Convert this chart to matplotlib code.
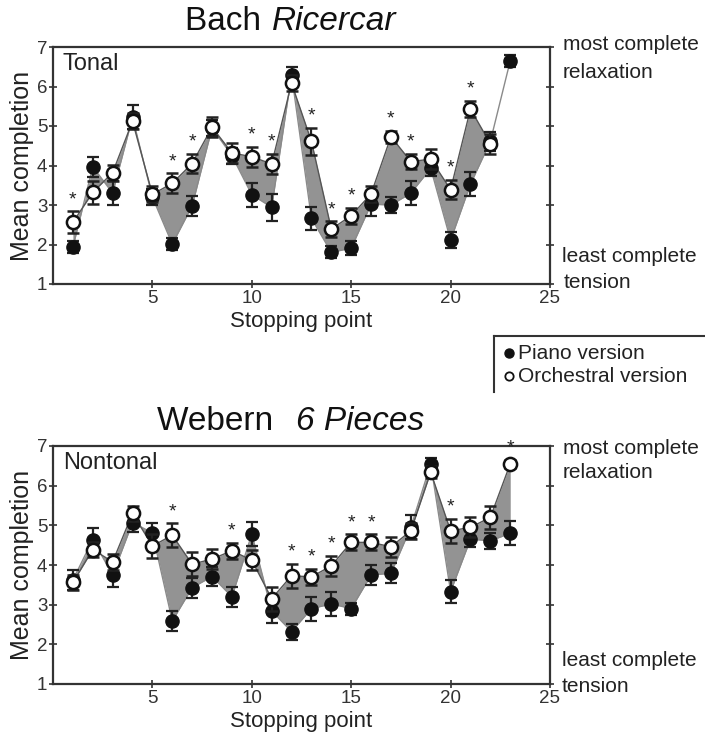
import numpy as np
import matplotlib
matplotlib.use("Agg")
import matplotlib.pyplot as plt
from matplotlib.lines import Line2D

plt.rcParams['font.family'] = ['Liberation Sans', 'DejaVu Sans']

points = np.arange(1, 24)

# Bach Ricercar (tonal)
bach_piano = [1.93, 3.97, 3.30, 5.22, 3.20, 2.01, 2.98, 4.95, 4.25, 3.26, 2.94, 6.30,
              2.66, 1.80, 1.91, 3.02, 3.00, 3.30, 3.93, 2.11, 3.53, 4.61, 6.65]
bach_piano_err = [0.15, 0.25, 0.30, 0.30, 0.20, 0.15, 0.25, 0.20, 0.20, 0.30, 0.35, 0.20,
                  0.30, 0.15, 0.18, 0.30, 0.20, 0.30, 0.20, 0.20, 0.30, 0.25, 0.15]
bach_orch = [2.56, 3.32, 3.82, 5.12, 3.27, 3.55, 4.05, 4.97, 4.32, 4.22, 4.04, 6.08,
             4.61, 2.39, 2.73, 3.28, 4.73, 4.10, 4.16, 3.39, 5.43, 4.55, np.nan]
bach_orch_err = [0.28, 0.30, 0.20, 0.20, 0.20, 0.25, 0.25, 0.25, 0.25, 0.25, 0.25, 0.20,
                 0.35, 0.20, 0.20, 0.20, 0.15, 0.20, 0.25, 0.25, 0.20, 0.25, np.nan]
bach_sig = [1, 6, 7, 10, 11, 13, 14, 15, 17, 18, 20, 21]

# Webern 6 Pieces (nontonal)
web_piano = [3.62, 4.64, 3.75, 5.07, 4.81, 2.59, 3.43, 3.71, 3.20, 4.78, 2.84, 2.32,
             2.90, 3.02, 2.90, 3.75, 3.79, 4.95, 6.55, 3.33, 4.65, 4.61, 4.80]
web_piano_err = [0.25, 0.30, 0.30, 0.25, 0.25, 0.25, 0.25, 0.25, 0.25, 0.30, 0.30, 0.20,
                 0.30, 0.30, 0.15, 0.25, 0.25, 0.30, 0.15, 0.30, 0.20, 0.20, 0.30]
web_orch = [3.56, 4.39, 4.08, 5.30, 4.48, 4.75, 4.02, 4.15, 4.36, 4.12, 3.15, 3.73,
            3.70, 3.98, 4.57, 4.57, 4.46, 4.86, 6.34, 4.86, 4.95, 5.20, 6.55]
web_orch_err = [0.20, 0.20, 0.20, 0.20, 0.30, 0.30, 0.30, 0.25, 0.20, 0.25, 0.30, 0.30,
                0.20, 0.25, 0.20, 0.20, 0.25, 0.20, 0.15, 0.30, 0.25, 0.30, 0.10]
web_sig = [6, 9, 12, 13, 14, 15, 16, 20, 23]

x_ticks = [5, 10, 15, 20, 25]
y_ticks = [1, 2, 3, 4, 5, 6, 7]

W, H = 705, 733
fig = plt.figure(figsize=(W / 100, H / 100), dpi=100)

def fx(px):
    return px / W

def fy(py):
    return 1 - py / H

ax1 = fig.add_axes([fx(53), fy(284), fx(497), (284 - 47) / H])
ax2 = fig.add_axes([fx(53), fy(684), fx(497), (684 - 446) / H])

FILL = '#939393'
DARK = '#222222'

def panel(ax, piano, perr, orch, oerr, sig, label, label_fs):
    piano = np.array(piano, float)
    orch = np.array(orch, float)
    perr = np.array(perr, float)
    oerr = np.array(oerr, float)
    mask = ~np.isnan(orch)
    ax.fill_between(points[mask], piano[mask], orch[mask], color=FILL, lw=0, zorder=1)
    ax.plot(points, piano, color='#8a8a8a', lw=1.0, zorder=2)
    ax.plot(points[mask], orch[mask], color='#555555', lw=1.0, zorder=2)
    ax.errorbar(points, piano, yerr=perr, fmt='o', color=DARK, ms=9.5,
                mfc='#111111', mec='#111111', ecolor=DARK, elinewidth=1.6,
                capsize=4.5, capthick=1.6, zorder=3)
    ax.errorbar(points[mask], orch[mask], yerr=oerr[mask], fmt='o', color=DARK, ms=9.5,
                mfc='white', mec='#111111', mew=1.8, ecolor=DARK, elinewidth=1.6,
                capsize=4.5, capthick=1.6, zorder=4)
    for s in sig:
        i = s - 1
        top = np.nanmax([piano[i] + perr[i], orch[i] + oerr[i]])
        ax.text(s, top + 0.08, '*', ha='center', va='bottom', fontsize=14,
                color='#222222', zorder=5)
    ax.set_xlim(0, 25)
    ax.set_ylim(1, 7)
    ax.set_xticks(x_ticks)
    ax.set_yticks(y_ticks)
    ax.tick_params(axis='both', labelsize=13.5, colors='#333333', length=6,
                   width=1.2, direction='inout', pad=1)
    ax.tick_params(axis='y', right=True, labelright=False)
    for sp in ax.spines.values():
        sp.set_linewidth(1.6)
        sp.set_color('#333333')
    ax.set_ylabel('Mean completion', fontsize=18, color='#222222', labelpad=2)
    ax.set_xlabel('Stopping point', fontsize=16, color='#222222')
    ax.xaxis.set_label_coords(0.5, -0.112)
    ax.text(0.02, 0.975, label, transform=ax.transAxes, fontsize=label_fs,
            va='top', ha='left', color='#222222')

panel(ax1, bach_piano, bach_piano_err, bach_orch, bach_orch_err, bach_sig, 'Tonal', 17)
panel(ax2, web_piano, web_piano_err, web_orch, web_orch_err, web_sig, 'Nontonal', 17)

# titles
fig.text(fx(270), fy(21), 'Bach ', fontsize=24, ha='right', va='center', color='#111111')
fig.text(fx(272), fy(21), 'Ricercar', fontsize=24, style='italic', ha='left', va='center', color='#111111')
fig.text(fx(292), fy(421), 'Webern  ', fontsize=24, ha='right', va='center', color='#111111')
fig.text(fx(296), fy(421), '6 Pieces', fontsize=24, style='italic', ha='left', va='center', color='#111111')

# right-side annotations
side_kw = dict(fontsize=15, ha='left', va='center', color='#222222')
fig.text(fx(563), fy(45), 'most complete', **side_kw)
fig.text(fx(563), fy(72), 'relaxation', **side_kw)
fig.text(fx(562), fy(257), 'least complete', **side_kw)
fig.text(fx(564), fy(283), 'tension', **side_kw)
fig.text(fx(563), fy(449), 'most complete', **side_kw)
fig.text(fx(563), fy(472), 'relaxation', **side_kw)
fig.text(fx(562), fy(660), 'least complete', **side_kw)
fig.text(fx(562), fy(686), 'tension', **side_kw)

# legend
fig.add_artist(Line2D([fx(494), fx(494)], [fy(392), fy(336)], color='#333333', lw=1.5))
fig.add_artist(Line2D([fx(494), fx(705)], [fy(336), fy(336)], color='#333333', lw=1.5))
fig.add_artist(Line2D([fx(509)], [fy(353)], marker='o', ms=6.5, mfc='#111111', mec='#111111', ls='none'))
fig.add_artist(Line2D([fx(509)], [fy(376)], marker='o', ms=6, mfc='white', mec='#111111', mew=1.3, ls='none'))
fig.text(fx(518), fy(353), 'Piano version', fontsize=15, ha='left', va='center', color='#222222')
fig.text(fx(518), fy(376), 'Orchestral version', fontsize=15, ha='left', va='center', color='#222222')

fig.savefig('out.png', dpi=100)
